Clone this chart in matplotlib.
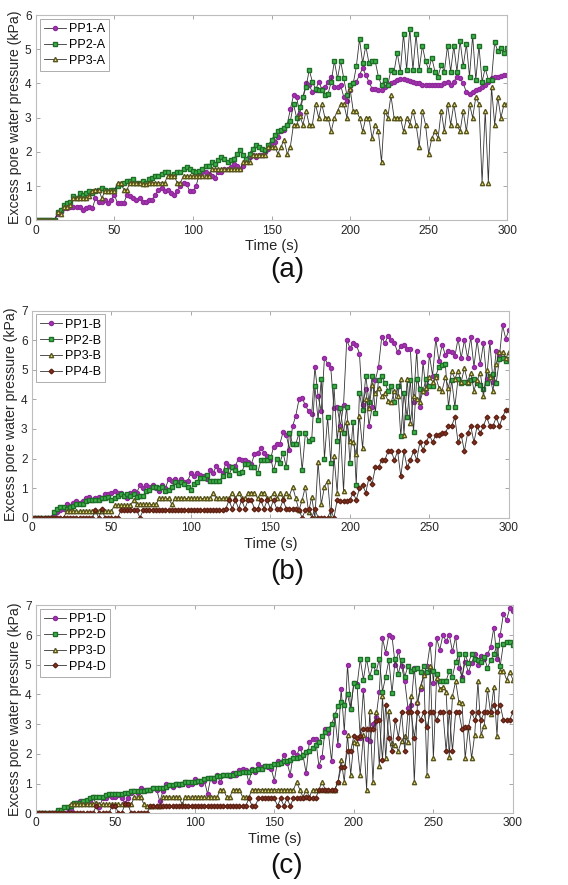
import numpy as np
import matplotlib
matplotlib.use("Agg")
import matplotlib.pyplot as plt

plt.rcParams['font.family'] = ['Liberation Sans', 'DejaVu Sans']

# ---- data (kPa), one reading every 2 s from 0 to 300 s ----
pp1_a = [0, 0, 0, 0, 0, 0, 0, 0.2, 0.25, 0.35,
         0.35, 0.4, 0.4, 0.4, 0.4, 0.3, 0.35, 0.4, 0.35, 0.65,
         0.55, 0.55, 0.6, 0.5, 0.6, 0.75, 0.5, 0.5, 0.5, 0.75,
         0.7, 0.65, 0.6, 0.65, 0.55, 0.55, 0.6, 0.6, 0.75, 0.9,
         0.95, 0.85, 0.9, 0.8, 0.75, 0.85, 1.0, 1.1, 1.05, 0.85,
         0.85, 1.0, 1.35, 1.4, 1.4, 1.35, 1.3, 1.25, 1.4, 1.4,
         1.5, 1.5, 1.55, 1.65, 1.6, 1.5, 1.6, 1.75, 1.85, 1.9,
         1.85, 1.9, 1.9, 2.0, 2.1, 2.25, 2.3, 2.45, 2.6, 2.65,
         2.8, 3.25, 3.65, 3.6, 3.1, 3.6, 4.0, 3.95, 3.75, 3.8,
         4.05, 3.85, 3.9, 4.05, 4.2, 3.9, 3.9, 3.95, 3.6, 3.5,
         3.8, 4.0, 4.05, 4.25, 4.45, 4.25, 4.05, 3.85, 3.85, 3.8,
         3.82, 3.9, 3.95, 4.0, 4.05, 4.1, 4.14, 4.13, 4.1, 4.08,
         4.05, 4.02, 4.0, 3.97, 3.96, 3.95, 3.95, 3.95, 3.95, 3.97,
         4.0, 4.05, 3.95, 4.05, 4.2, 4.15, 4.0, 3.75, 3.7, 3.75,
         3.8, 3.85, 3.9, 3.95, 4.05, 4.15, 4.2, 4.2, 4.22, 4.25,
         4.25]
pp2_a = [0, 0, 0, 0, 0, 0, 0, 0.25, 0.3, 0.45,
         0.5, 0.55, 0.7, 0.65, 0.8, 0.75, 0.8, 0.85, 0.8, 0.85,
         0.9, 0.95, 0.9, 0.85, 0.9, 0.9, 1.0, 1.05, 1.1, 1.15,
         1.15, 1.2, 1.1, 1.1, 1.15, 1.1, 1.2, 1.25, 1.3, 1.3,
         1.35, 1.4, 1.4, 1.3, 1.35, 1.4, 1.4, 1.5, 1.55, 1.5,
         1.45, 1.4, 1.45, 1.5, 1.6, 1.6, 1.7, 1.65, 1.75, 1.85,
         1.8, 1.7, 1.75, 1.8, 1.95, 2.05, 1.9, 1.8, 1.95, 2.1,
         2.2, 2.15, 2.1, 2.05, 2.2, 2.35, 2.5, 2.6, 2.65, 2.7,
         2.8, 2.9, 3.4, 3.0, 3.3, 3.6, 3.9, 4.4, 4.05, 3.85,
         3.8, 3.8, 3.65, 3.7, 4.05, 4.65, 4.15, 4.65, 4.15, 3.65,
         3.95, 4.0, 4.5, 5.3, 4.6, 5.1, 4.6, 4.65, 4.65, 4.2,
         3.95, 4.1, 3.95, 4.4, 4.35, 4.9, 4.35, 5.45, 4.4, 5.6,
         4.4, 5.45, 4.4, 5.1, 4.65, 4.4, 4.75, 4.35, 4.2, 4.55,
         4.35, 5.1, 4.35, 5.1, 4.35, 5.25, 4.5, 5.15, 4.2, 5.4,
         4.1, 5.1, 4.05, 4.45, 4.1, 4.1, 5.2, 4.95, 5.05, 4.9,
         5.05]
pp3_a = [0, 0, 0, 0, 0, 0, 0, 0.25, 0.2, 0.4,
         0.4, 0.45, 0.65, 0.65, 0.65, 0.65, 0.65, 0.7, 0.85, 0.9,
         0.9, 0.65, 0.85, 0.85, 0.85, 0.85, 1.1, 1.1, 0.9, 0.9,
         1.1, 1.1, 1.1, 1.1, 1.05, 1.05, 1.1, 1.1, 1.1, 1.1,
         1.1, 1.1, 1.3, 1.3, 1.3, 1.1, 1.1, 1.3, 1.3, 1.3,
         1.3, 1.3, 1.3, 1.3, 1.3, 1.3, 1.5, 1.5, 1.5, 1.5,
         1.5, 1.5, 1.5, 1.5, 1.5, 1.5, 1.7, 1.7, 1.7, 1.9,
         1.9, 1.9, 1.9, 1.9, 2.15, 2.15, 2.15, 1.95, 2.15, 2.35,
         1.95, 2.15, 2.8, 2.8, 3.05, 2.8, 3.2, 2.8, 2.8, 3.4,
         3.0, 3.4, 3.0, 3.0, 2.6, 3.0, 3.2, 3.4, 3.4, 3.0,
         3.85, 3.2, 3.2, 3.0, 2.6, 3.0, 3.0, 2.4, 2.8, 2.6,
         1.7, 3.2, 3.0, 3.65, 3.0, 3.0, 3.0, 2.6, 3.0, 2.8,
         3.2, 2.8, 2.15, 3.2, 2.8, 1.95, 2.4, 2.6, 2.4, 3.2,
         2.6, 3.4, 2.8, 3.4, 2.8, 2.6, 3.2, 2.6, 3.4, 3.0,
         3.6, 3.4, 1.1, 3.2, 1.1, 3.9, 2.8, 3.6, 3.0, 3.4,
         3.4]

pp1_b = [0, 0, 0, 0, 0, 0, 0, 0.1, 0.2, 0.25,
         0.3, 0.45, 0.4, 0.5, 0.55, 0.5, 0.55, 0.65, 0.7, 0.6,
         0.65, 0.7, 0.65, 0.8, 0.8, 0.85, 0.9, 0.85, 0.85, 0.75,
         0.65, 0.85, 0.9, 0.85, 1.1, 1.0, 1.1, 1.05, 1.1, 1.0,
         0.9, 1.1, 1.0, 1.3, 1.25, 1.3, 1.2, 1.3, 1.2, 1.25,
         1.5, 1.4, 1.5, 1.45, 1.4, 1.3, 1.6, 1.5, 1.75, 1.6,
         1.5, 1.85, 1.75, 1.7, 1.75, 2.0, 1.95, 1.95, 1.9, 1.8,
         2.15, 2.2, 2.35, 2.2, 2.1, 1.95, 2.4, 2.5, 2.5, 2.9,
         2.8, 2.3, 3.1, 3.45, 4.0, 4.05, 3.8, 3.6, 3.5, 5.1,
         4.1, 3.6, 5.4, 5.2, 5.05, 3.7, 3.75, 3.1, 3.8, 6.0,
         5.75, 5.9, 5.85, 5.55, 3.8, 4.35, 3.1, 3.75, 4.65, 5.1,
         6.1, 5.9, 6.15, 6.0, 5.9, 5.6, 5.8, 5.85, 5.7, 5.7,
         3.9, 5.65, 3.75, 5.25, 4.2, 5.5, 4.8, 6.05, 5.3, 5.85,
         5.5, 5.65, 5.6, 5.45, 6.05, 5.4, 6.0, 5.4, 6.1, 5.1,
         6.0, 5.2, 5.9, 4.7, 5.95, 4.6, 5.65, 5.45, 6.5, 6.05,
         6.35]
pp2_b = [0, 0, 0, 0, 0, 0, 0, 0.2, 0.3, 0.35,
         0.35, 0.3, 0.35, 0.4, 0.45, 0.45, 0.45, 0.55, 0.6, 0.6,
         0.6, 0.6, 0.65, 0.65, 0.7, 0.6, 0.65, 0.75, 0.8, 0.75,
         0.8, 0.75, 0.8, 0.7, 0.75, 0.75, 0.9, 0.95, 1.05, 1.05,
         1.0, 1.05, 0.9, 0.95, 1.05, 1.2, 1.1, 1.2, 1.15, 1.05,
         0.95, 1.15, 1.2, 1.35, 1.35, 1.45, 1.25, 1.25, 1.25, 1.25,
         1.4, 1.6, 1.45, 1.7, 1.6, 1.5, 1.55, 1.8, 1.8, 1.7,
         1.7, 1.5, 1.95, 1.95, 1.95, 2.05, 1.6, 2.0, 1.85, 2.2,
         1.7, 2.85, 2.5, 2.5, 2.85, 1.6, 2.85, 2.6, 2.65, 4.45,
         3.3, 4.7, 2.0, 3.4, 1.85, 4.45, 2.6, 3.7, 2.85, 3.75,
         1.85, 3.25, 1.1, 4.2, 3.65, 4.8, 3.9, 4.8, 3.55, 4.65,
         4.8, 4.55, 4.3, 4.45, 3.9, 4.45, 2.75, 4.2, 3.4, 4.65,
         2.9, 4.7, 4.35, 4.3, 4.7, 4.45, 4.45, 4.8, 5.1, 5.15,
         5.2, 3.75, 4.65, 3.75, 4.7, 4.55, 4.6, 4.55, 4.65, 4.7,
         4.55, 4.5, 4.35, 4.55, 4.8, 4.85, 4.55, 5.35, 5.4, 5.3,
         5.35]
pp3_b = [0, 0, 0, 0, 0, 0, 0, 0, 0, 0,
         0, 0.22, 0.22, 0.22, 0.22, 0.22, 0.22, 0.22, 0.22, 0.22,
         0.22, 0.22, 0.22, 0.22, 0.22, 0.22, 0.42, 0.42, 0.42, 0.42,
         0.42, 0.42, 0.6, 0.45, 0.45, 0.45, 0.45, 0.45, 0.45, 0.45,
         0.65, 0.65, 0.65, 0.65, 0.45, 0.65, 0.65, 0.65, 0.65, 0.65,
         0.65, 0.65, 0.65, 0.65, 0.65, 0.65, 0.65, 0.85, 0.65, 0.65,
         0.65, 0.65, 0.65, 0.85, 0.65, 0.85, 0.65, 0.65, 0.85, 0.85,
         0.85, 0.65, 0.85, 0.85, 0.65, 0.65, 0.85, 0.65, 0.85, 0.65,
         0.85, 0.75, 1.05, 0.65, 0.25, 0.6, 1.05, 0.2, 0.7, 0.0,
         1.9, 0.45, 1.05, 1.25, 0.0, 2.1, 0.85, 3.0, 0.9, 3.25,
         2.6, 2.55, 2.15, 3.45, 2.35, 4.0, 3.7, 4.5, 4.2, 4.4,
         4.1, 4.2, 3.95, 3.9, 4.3, 4.1, 4.7, 2.8, 4.7, 3.2,
         4.1, 4.0, 3.9, 4.3, 4.4, 4.75, 4.6, 4.75, 4.4, 4.3,
         4.75, 4.4, 4.95, 4.7, 4.95, 4.6, 5.05, 4.6, 4.9, 4.3,
         4.65, 4.9, 4.1, 5.0, 4.75, 4.3, 5.2, 5.6, 5.6, 5.4,
         5.6]
pp4_b = [0, 0, 0, 0, 0, 0, 0, 0, 0, 0,
         0, 0, 0, 0, 0, 0, 0, 0, 0, 0,
         0.25, 0.0, 0.3, 0.0, 0.0, 0.0, 0.0, 0.0, 0.25, 0.25,
         0.25, 0.25, 0.25, 0.25, 0.0, 0.25, 0.25, 0.25, 0.25, 0.25,
         0.25, 0.25, 0.25, 0.25, 0.25, 0.25, 0.25, 0.25, 0.25, 0.25,
         0.25, 0.25, 0.25, 0.25, 0.25, 0.25, 0.25, 0.25, 0.25, 0.25,
         0.25, 0.3, 0.6, 0.3, 0.6, 0.3, 0.6, 0.3, 0.6, 0.6,
         0.3, 0.3, 0.6, 0.3, 0.6, 0.3, 0.6, 0.3, 0.3, 0.6,
         0.3, 0.3, 0.3, 0.3, 0.25, 0.0, 0.25, 0.3, 0.0, 0.3,
         0.0, 0.0, 0.0, 0.0, 0.25, 0.0, 0.6, 0.55, 0.55, 0.55,
         0.6, 0.85, 0.6, 1.0, 1.1, 0.85, 1.35, 1.15, 1.7, 1.7,
         1.95, 1.95, 2.25, 2.25, 1.95, 2.25, 1.4, 2.25, 1.7, 1.95,
         2.25, 1.95, 2.55, 2.3, 2.55, 2.8, 2.55, 2.8, 2.8, 2.85,
         2.85, 3.1, 3.1, 3.4, 2.55, 2.8, 2.25, 2.85, 3.1, 2.55,
         3.1, 2.85, 3.1, 3.4, 3.1, 3.1, 3.4, 3.1, 3.4, 3.65,
         3.65]

pp1_d = [0, 0, 0, 0, 0, 0, 0, 0, 0, 0,
         0.05, 0.1, 0.3, 0.35, 0.4, 0.35, 0.35, 0.4, 0.55, 0.3,
         0.2, 0.5, 0.5, 0.6, 0.55, 0.55, 0.6, 0.5, 0.35, 0.5,
         0.7, 0.75, 0.7, 0.85, 0.8, 0.8, 0.8, 0.85, 0.8, 0.4,
         0.75, 1.0, 0.95, 0.9, 1.0, 0.95, 1.0, 1.05, 0.95, 1.0,
         1.15, 1.1, 1.0, 1.1, 0.65, 1.2, 1.1, 1.3, 1.05, 1.3,
         1.3, 1.25, 1.35, 1.3, 1.45, 1.5, 1.45, 1.05, 1.5, 1.4,
         1.65, 1.55, 1.6, 1.55, 1.5, 1.1, 1.75, 1.7, 1.95, 1.7,
         1.3, 2.05, 1.95, 2.2, 1.95, 1.35, 2.4, 2.5, 2.5, 1.6,
         1.9, 2.85, 2.7, 1.75, 3.3, 2.3, 4.2, 2.75, 5.0, 3.5,
         4.4, 4.35, 2.55, 4.15, 2.5, 2.45, 3.0, 3.25, 4.1, 5.9,
         5.4, 6.0, 5.95, 5.0, 5.45, 4.95, 4.45, 3.55, 3.65, 4.9,
         3.7, 4.2, 4.7, 4.95, 5.7, 4.4, 5.9, 5.5, 6.0, 5.8,
         6.0, 5.45, 5.95, 4.9, 4.6, 5.1, 4.75, 5.05, 5.35, 5.0,
         5.3, 5.2, 5.35, 5.6, 6.25, 5.2, 6.0, 6.7, 6.5, 6.9,
         6.8]
pp2_d = [0, 0, 0, 0, 0, 0, 0, 0.1, 0.12, 0.2,
         0.2, 0.25, 0.35, 0.35, 0.35, 0.4, 0.45, 0.5, 0.55, 0.55,
         0.55, 0.55, 0.6, 0.65, 0.65, 0.65, 0.65, 0.65, 0.7, 0.7,
         0.75, 0.75, 0.75, 0.75, 0.75, 0.8, 0.8, 0.85, 0.85, 0.85,
         0.85, 0.9, 0.95, 0.95, 1.0, 1.0, 1.0, 1.05, 1.05, 1.05,
         1.05, 1.1, 1.1, 1.15, 1.2, 1.2, 1.2, 1.25, 1.25, 1.3,
         1.3, 1.3, 1.3, 1.35, 1.35, 1.4, 1.4, 1.4, 1.45, 1.45,
         1.5, 1.5, 1.6, 1.6, 1.6, 1.65, 1.65, 1.7, 1.75, 1.75,
         1.8, 1.85, 1.85, 1.9, 1.95, 2.05, 2.1, 2.2, 2.3, 2.4,
         2.6, 2.75, 2.85, 3.0, 3.3, 3.6, 3.75, 3.65, 4.0, 3.5,
         4.4, 4.3, 5.2, 4.5, 5.2, 4.6, 5.0, 4.75, 5.2, 4.1,
         4.6, 5.15, 4.05, 5.2, 4.7, 5.15, 4.6, 4.95, 4.8, 4.85,
         4.9, 4.75, 4.95, 4.75, 4.85, 4.8, 4.7, 4.45, 4.45, 4.45,
         4.8, 4.6, 5.1, 5.35, 4.5, 5.35, 5.05, 5.35, 5.2, 5.15,
         5.1, 5.25, 4.9, 5.15, 5.35, 5.65, 4.95, 5.7, 5.75, 5.75,
         5.65]
pp3_d = [0, 0, 0, 0, 0, 0, 0, 0, 0, 0,
         0, 0.3, 0.3, 0.3, 0.3, 0.3, 0.3, 0.3, 0.3, 0.35,
         0.3, 0.3, 0.3, 0.3, 0.3, 0.3, 0.3, 0.3, 0.3, 0.3,
         0.3, 0.55, 0.55, 0.55, 0.3, 0.25, 0.25, 0.25, 0.25, 0.25,
         0.55, 0.55, 0.55, 0.55, 0.55, 0.55, 0.3, 0.55, 0.55, 0.55,
         0.55, 0.55, 0.55, 0.55, 0.55, 0.55, 0.55, 0.55, 0.8, 0.8,
         0.55, 0.55, 0.8, 0.8, 0.8, 0.55, 0.55, 0.55, 0.8, 0.8,
         0.8, 0.8, 0.8, 0.8, 0.8, 0.8, 0.8, 0.8, 0.8, 0.8,
         0.8, 0.8, 1.05, 0.8, 0.55, 0.8, 0.55, 0.8, 0.8, 0.8,
         1.05, 0.8, 0.8, 0.8, 0.8, 1.05, 1.8, 1.05, 2.65, 1.3,
         2.4, 2.35, 1.3, 2.65, 0.8, 3.45, 1.05, 3.4, 1.6, 3.95,
         1.85, 3.45, 2.35, 2.3, 2.1, 2.45, 2.6, 2.4, 3.95, 1.05,
         3.75, 4.3, 4.65, 1.3, 4.95, 1.85, 4.55, 4.2, 4.25, 4.1,
         1.9, 3.95, 4.45, 3.75, 3.7, 1.85, 2.9, 1.85, 2.65, 4.45,
         2.65, 2.95, 4.2, 3.35, 4.25, 2.6, 4.8, 4.8, 4.5, 4.75,
         4.5]
pp4_d = [0, 0, 0, 0, 0, 0, 0, 0, 0, 0,
         0, 0, 0, 0, 0, 0, 0, 0, 0, 0.25,
         0.0, 0.0, 0.0, 0.0, 0.25, 0.25, 0.0, 0.0, 0.3, 0.3,
         0.0, 0.0, 0.0, 0.0, 0.0, 0.0, 0.25, 0.25, 0.25, 0.25,
         0.25, 0.25, 0.25, 0.25, 0.25, 0.25, 0.25, 0.25, 0.25, 0.25,
         0.25, 0.25, 0.25, 0.25, 0.25, 0.25, 0.25, 0.25, 0.25, 0.25,
         0.25, 0.25, 0.25, 0.25, 0.25, 0.25, 0.25, 0.5, 0.25, 0.25,
         0.5, 0.5, 0.5, 0.5, 0.5, 0.5, 0.25, 0.5, 0.25, 0.5,
         0.25, 0.5, 0.5, 0.5, 0.5, 0.55, 0.5, 0.5, 0.5, 0.8,
         0.8, 0.8, 0.8, 0.8, 0.8, 1.05, 1.55, 1.55, 2.1, 2.1,
         2.6, 2.55, 2.6, 2.85, 2.85, 2.85, 2.85, 3.1, 3.15, 1.8,
         3.65, 2.55, 2.1, 3.15, 2.55, 3.4, 2.1, 3.4, 3.4, 2.55,
         3.4, 3.15, 3.4, 2.9, 3.4, 3.4, 3.15, 3.4, 3.4, 2.1,
         3.4, 2.1, 3.4, 3.4, 2.85, 2.9, 2.9, 3.4, 3.15, 3.4,
         3.15, 3.4, 3.4, 3.4, 3.65, 3.4, 3.65, 3.15, 3.15, 3.15,
         3.4]

# marker styles per sensor position
styles = {
    'PP1': dict(marker='o', ms=2.9, mfc='#A832B4', mec='#8E2A9A'),
    'PP2': dict(marker='s', ms=2.5, mfc='#3DB54A', mec='#1F6E28'),
    'PP3': dict(marker='^', ms=3.1, mfc='#EEE47A', mec='#5A5620'),
    'PP4': dict(marker='D', ms=2.4, mfc='#8A3320', mec='#5C2012'),
}
grey = '#262626'
frame = '#BDBDBD'

fig = plt.figure(figsize=(5.68, 8.85), dpi=100)


def panel(rect, series, ymax, tag, tag_y):
    ax = fig.add_axes(rect)
    for name, y in series:
        t = np.linspace(0, 300, len(y))
        ax.plot(t, y, color='#333333', lw=0.6, label=name, **styles[name[:3]])
    ax.set_xlim(0, 300)
    ax.set_ylim(0, ymax)
    ax.set_xticks(np.arange(0, 301, 50))
    ax.set_yticks(np.arange(0, ymax + 1, 1))
    ax.tick_params(direction='in', length=3, width=0.6, color='#999999',
                   labelsize=8.6, labelcolor=grey, top=True, right=True, pad=3)
    for s in ax.spines.values():
        s.set_color(frame)
        s.set_linewidth(0.8)
    ax.set_xlabel('Time (s)', fontsize=10.5, color=grey, labelpad=2)
    ax.set_ylabel('Excess pore water pressure (kPa)', fontsize=10.2, color=grey, labelpad=2)
    leg = ax.legend(loc='upper left', fontsize=9, handlelength=1.8, handletextpad=0.2,
                    borderpad=0.35, labelspacing=0.3, borderaxespad=0.3, fancybox=False)
    leg.get_frame().set_edgecolor('#888888')
    leg.get_frame().set_linewidth(0.6)
    fig.text(0.505, tag_y, tag, fontsize=20, ha='center', va='center', color='#111111')
    return ax


panel([0.063, 0.751, 0.830, 0.232],
      [('PP1-A', pp1_a), ('PP2-A', pp2_a), ('PP3-A', pp3_a)], 6, '(a)', 0.695)
panel([0.056, 0.415, 0.840, 0.234],
      [('PP1-B', pp1_b), ('PP2-B', pp2_b), ('PP3-B', pp3_b), ('PP4-B', pp4_b)], 7, '(b)', 0.354)
panel([0.063, 0.081, 0.840, 0.235],
      [('PP1-D', pp1_d), ('PP2-D', pp2_d), ('PP3-D', pp3_d), ('PP4-D', pp4_d)], 7, '(c)', 0.022)

fig.savefig('out.png', dpi=100)
